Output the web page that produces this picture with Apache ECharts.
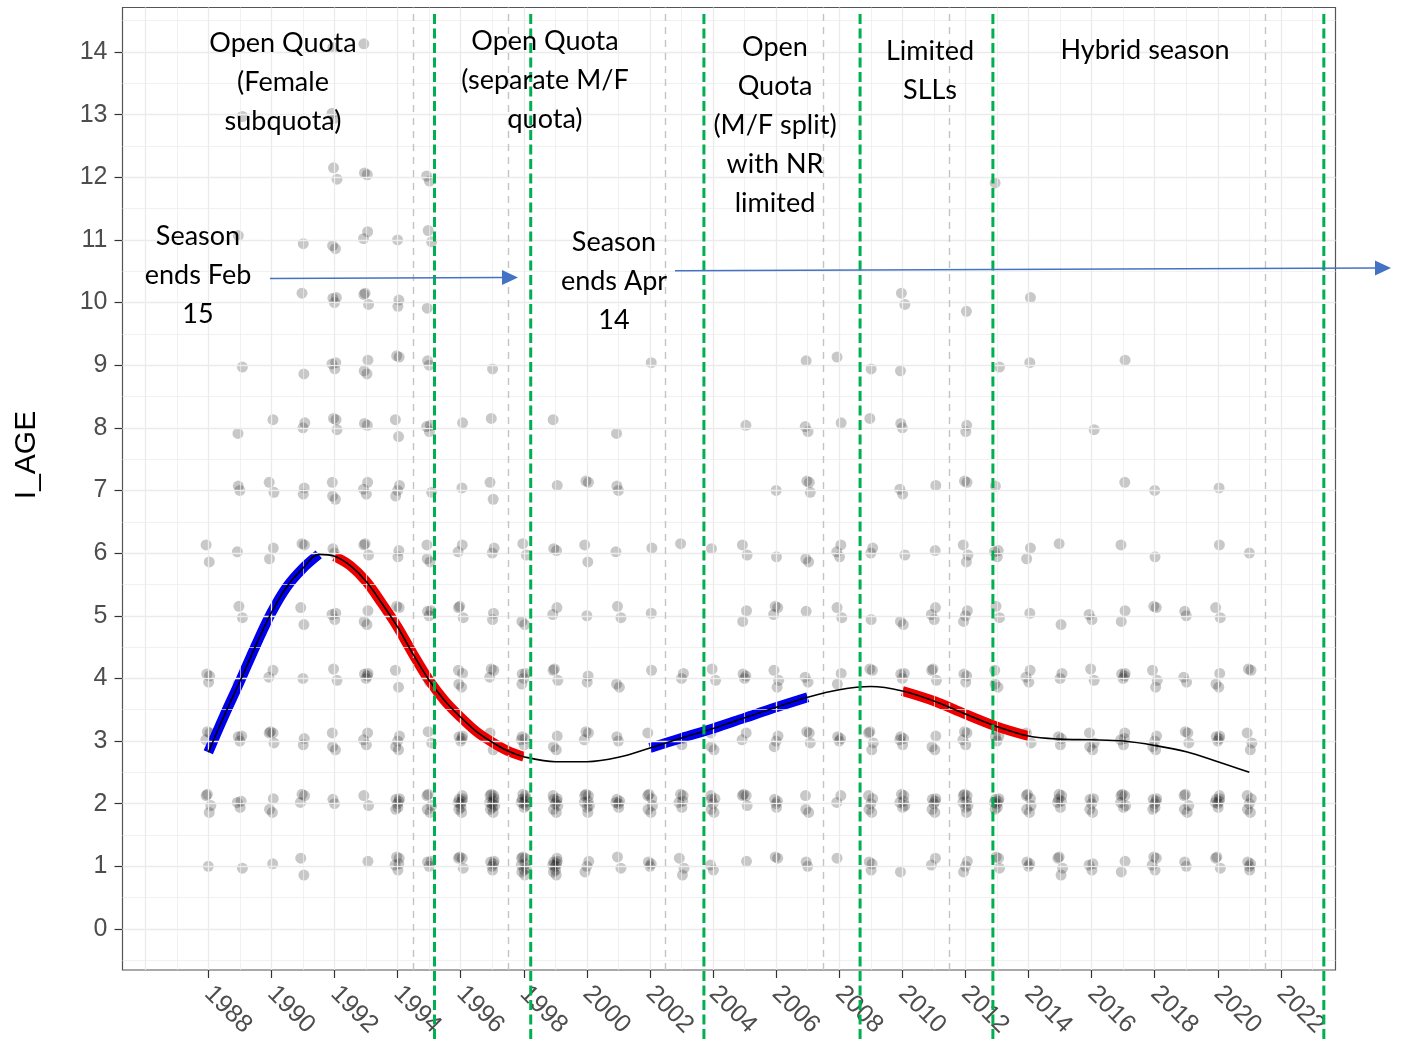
<!DOCTYPE html>
<html><head><meta charset="utf-8">
<script src="https://cdn.jsdelivr.net/npm/echarts@6/dist/echarts.min.js"></script>
<style>html,body{margin:0;padding:0;background:#fff}#c{width:1402px;height:1047px}</style>
</head><body><div id="c"></div>
<script>
// ---------------- DATA ----------------
const years = [1988,1989,1990,1991,1992,1993,1994,1995,1996,1997,1998,1999,2000,2001,2002,2003,2004,2005,2006,2007,2008,2009,2010,2011,2012,2013,2014,2015,2016,2017,2018,2019,2020,2021];
// number of observations per year at each age (columns follow `years`)
const age1Counts  = [1,1,1,2,0,1,5,3,4,5,9,9,3,2,3,3,2,1,2,2,1,3,1,2,3,3,3,4,3,2,4,2,3,4];
const age2Counts  = [4,3,3,3,2,2,6,5,9,11,9,8,8,5,6,5,6,4,4,3,2,5,6,6,8,7,6,6,5,6,6,5,7,5];
const age3Counts  = [3,3,4,2,3,3,4,2,4,2,4,3,3,2,1,2,3,2,3,3,3,4,4,3,4,3,2,3,4,4,4,3,4,3];
const age4Counts  = [3,1,2,1,2,4,2,2,4,3,4,3,2,2,1,2,2,3,3,2,2,2,3,3,3,3,3,2,2,4,3,2,3,2];
const age5Counts  = [0,2,0,2,3,3,2,3,3,2,2,2,1,2,1,0,0,2,3,1,2,1,2,3,3,2,1,1,2,2,2,2,2,0];
const age6Counts  = [2,1,2,2,2,3,2,3,2,2,2,2,2,1,1,1,1,2,1,2,3,2,1,1,3,3,2,1,0,1,1,0,1,1];
const age7Counts  = [0,2,2,2,3,3,3,1,1,2,0,1,2,2,0,0,0,0,1,3,0,0,2,1,2,1,0,0,0,1,1,0,1,0];
const age8Counts  = [0,1,1,2,3,2,2,3,1,1,0,1,0,1,0,0,0,1,0,2,1,1,2,0,2,0,0,0,1,0,0,0,0,0];
const age9Counts  = [0,1,0,1,3,3,2,2,0,1,0,0,0,0,1,0,0,0,0,1,1,1,1,0,0,1,1,0,0,1,0,0,0,0];
const age10Counts = [0,0,0,1,3,3,2,1,0,0,0,0,0,0,0,0,0,0,0,0,0,0,2,0,1,0,1,0,0,0,0,0,0,0];
const age11Counts = [0,1,0,1,2,2,1,2,0,0,0,0,0,0,0,0,0,0,0,0,0,0,0,0,0,0,0,0,0,0,0,0,0,0];
const age12Counts = [0,0,0,0,2,2,0,2,0,0,0,0,0,0,0,0,0,0,0,0,0,0,0,0,0,1,0,0,0,0,0,0,0,0];
const age13Counts = [0,1,0,0,2,0,0,0,0,0,0,0,0,0,0,0,0,0,0,0,0,0,0,0,0,0,0,0,0,0,0,0,0,0];
const age14Counts = [0,0,0,0,1,1,0,0,0,0,0,0,0,0,0,0,0,0,0,0,0,0,0,0,0,0,0,0,0,0,0,0,0,0];

// smoothed trend
const trendX = [1988,1988.5,1989,1989.5,1990,1990.5,1991,1991.5,1992,1992.5,1993,1993.5,1994,1994.5,1995,1995.5,1996,1996.5,1997,1997.5,1998,1999,2000,2001,2002,2003,2004,2005,2006,2007,2008,2009,2010,2011,2012,2013,2014,2015,2016,2017,2018,2019,2020,2021];
const trendY = [2.82,3.40,3.95,4.52,5.05,5.47,5.76,5.98,5.95,5.80,5.55,5.20,4.82,4.38,3.97,3.64,3.38,3.15,2.98,2.84,2.75,2.67,2.67,2.74,2.89,3.05,3.2,3.37,3.54,3.7,3.82,3.87,3.8,3.64,3.43,3.23,3.08,3.03,3.02,3.0,2.93,2.83,2.67,2.5];
const increasingRanges = [[1988,1991.5],[2002,2007]];
const decreasingRanges = [[1992,1998],[2010,2014]];

const regimeChangeYears = [1995.17,1998.22,2003.71,2008.66,2012.87,2023.36];
const seasonBreakYears  = [1994.5,1997.5,2002.5,2007.5,2011.5,2021.5];

const xTickLabels = [1988,1990,1992,1994,1996,1998,2000,2002,2004,2006,2008,2010,2012,2014,2016,2018,2020,2022];
const yTickLabels = [0,1,2,3,4,5,6,7,8,9,10,11,12,13,14];
const yTitle = 'I_AGE';

const annotations = [
  {text:'Open Quota\n(Female\nsubquota)', x:283, y:24},
  {text:'Open Quota\n(separate M/F\nquota)', x:545, y:22},
  {text:'Open\nQuota\n(M/F split)\nwith NR\nlimited', x:775, y:28},
  {text:'Limited\nSLLs', x:930, y:32},
  {text:'Hybrid season', x:1145, y:31},
  {text:'Season\nends Feb\n15', x:198, y:217},
  {text:'Season\nends Apr\n14', x:614, y:223}
];
const arrows = [
  {x1:270, y1:278.5, x2:518, y2:277.5},
  {x1:675, y1:270.7, x2:1391, y2:268}
];

// ---------------- BUILD ----------------
const ages = [1,2,3,4,5,6,7,8,9,10,11,12,13,14];
const countsByAge = [age1Counts,age2Counts,age3Counts,age4Counts,age5Counts,age6Counts,age7Counts,age8Counts,age9Counts,age10Counts,age11Counts,age12Counts,age13Counts,age14Counts];
// fixed jitter pattern (visual spread of overlapping observations)
const JITTER = [[0,0],[0.06,0.08],[-0.06,-0.09],[0.03,-0.14],[-0.07,0.13],[0.08,-0.03],[-0.03,0.15],[0.05,0.13],[-0.08,0.02],[0.01,-0.06],[0.04,0.04],[-0.05,0.07]];
const points = [];
countsByAge.forEach((arr, ai) => arr.forEach((n, yi) => {
  for (let k = 0; k < n; k++) {
    const j = JITTER[(k + yi * 5 + ai * 3) % JITTER.length];
    points.push([years[yi] + j[0], ages[ai] + j[1]]);
  }
}));
const trend = trendX.map((x, i) => [x, trendY[i]]);
const sub = r => trend.filter(p => p[0] >= r[0] && p[0] <= r[1]);

const XMIN = 1985.28, XMAX = 2023.73, YMIN = -0.655, YMAX = 14.71;
const gridXs = []; for (let v = 1986; v <= 2023; v++) gridXs.push(v);
const gridYs = []; for (let v = -0.5; v <= 14.5; v += 0.5) gridYs.push(v);

const SMOOTH = 0.35;
const segSeries = [];
increasingRanges.forEach(r => segSeries.push({type:'line', data:sub(r), smooth:SMOOTH, symbol:'none', z:4, silent:true,
  lineStyle:{color:'#0000ee', width:10, cap:'butt'}}));
decreasingRanges.forEach(r => segSeries.push({type:'line', data:sub(r), smooth:SMOOTH, symbol:'none', z:4, silent:true,
  lineStyle:{color:'#ee0000', width:10, cap:'butt'}}));

const chart = echarts.init(document.getElementById('c'), null, {renderer:'canvas'});
chart.setOption({
  animation:false,
  backgroundColor:'#fff',
  grid:{left:122.5, right:66.5, top:7.5, bottom:77, show:true, borderColor:'#555', borderWidth:1.2, backgroundColor:'transparent', containLabel:false},
  xAxis:{type:'value', min:XMIN, max:XMAX, splitLine:{show:false},
    axisLine:{show:false, onZero:false},
    axisTick:{show:true, length:8, customValues:xTickLabels, lineStyle:{color:'#333', width:1.2}},
    axisLabel:{customValues:xTickLabels, rotate:-45, margin:20, color:'#4d4d4d', fontSize:25, fontFamily:'Liberation Sans', formatter:v=>String(v)}},
  yAxis:{type:'value', min:YMIN, max:YMAX, splitLine:{show:false},
    axisLine:{show:false, onZero:false},
    axisTick:{show:true, length:8, customValues:yTickLabels, lineStyle:{color:'#333', width:1.2}},
    axisLabel:{customValues:yTickLabels, margin:15, color:'#4d4d4d', fontSize:25, fontFamily:'Liberation Sans', formatter:v=>String(v)}},
  series:[
    {type:'scatter', data:[], z:0, silent:true,
      markLine:{silent:true, symbol:'none', label:{show:false}, animation:false,
        data: gridXs.map(v => ({xAxis:v, lineStyle:{color:'#ebebeb', width:(v%2===0)?1.3:0.7, type:'solid'}}))
          .concat(gridYs.map(v => ({yAxis:v, lineStyle:{color:'#ebebeb', width:(Number.isInteger(v))?1.3:0.7, type:'solid'}})))}},
    {type:'scatter', data:[], z:1, silent:true,
      markLine:{silent:true, symbol:'none', label:{show:false}, animation:false,
        data: seasonBreakYears.map(v => ({xAxis:v, lineStyle:{color:'#c4c4c4', width:1.4, type:[7,6]}}))}},
    {type:'scatter', data:points, symbolSize:11, z:2, silent:true, itemStyle:{color:'rgba(0,0,0,0.27)'}},
    ...segSeries,
    {type:'line', data:trend, smooth:SMOOTH, symbol:'none', z:5, silent:true, lineStyle:{color:'#000', width:1.6}}
  ]
});

// overlays: regime lines, annotations, arrows, axis title
const gfx = [];
regimeChangeYears.forEach(yr => {
  const px = chart.convertToPixel({xAxisIndex:0}, yr);
  gfx.push({type:'line', z:100, silent:true, shape:{x1:px, y1:14, x2:px, y2:1042},
    style:{stroke:'#00b050', lineWidth:3, lineDash:[10,4.5]}});
});
annotations.forEach(a => gfx.push({type:'text', z:110, silent:true, x:a.x, y:a.y,
  style:{text:a.text, fill:'#000', fontSize:27, fontFamily:'Lato', lineHeight:39, textAlign:'center', textVerticalAlign:'top'}}));
arrows.forEach(a => {
  const ang = Math.atan2(a.y2 - a.y1, a.x2 - a.x1), L = 16, W = 7.5;
  const bx = a.x2 - L * Math.cos(ang), by = a.y2 - L * Math.sin(ang);
  gfx.push({type:'line', z:105, silent:true, shape:{x1:a.x1, y1:a.y1, x2:bx, y2:by}, style:{stroke:'#4472c4', lineWidth:1.4}});
  gfx.push({type:'polygon', z:105, silent:true, shape:{points:[[a.x2,a.y2],[bx - W*Math.sin(ang), by + W*Math.cos(ang)],[bx + W*Math.sin(ang), by - W*Math.cos(ang)]]}, style:{fill:'#4472c4'}});
});
gfx.push({type:'text', z:110, silent:true, x:27, y:455, rotation:Math.PI/2,
  style:{text:yTitle, fill:'#000', fontSize:30, fontFamily:'Liberation Sans', textAlign:'center', textVerticalAlign:'middle'}});
chart.setOption({graphic:gfx});
</script>
</body></html>
